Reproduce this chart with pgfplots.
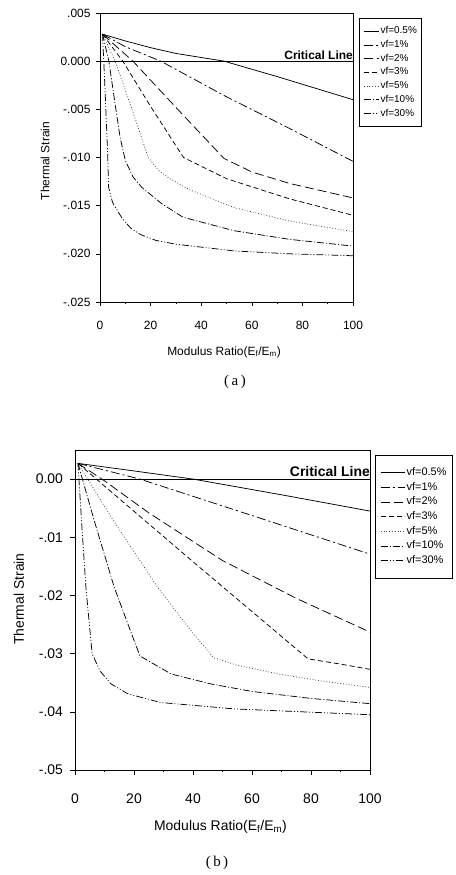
\documentclass[border=0pt]{standalone}
\usepackage{fontspec}
\setmainfont{Liberation Sans}
\newfontfamily\capfont{Liberation Serif}
\usepackage{pgfplots}
\pgfplotsset{compat=1.18}
\pgfplotsset{
 s05/.style={black, line width=0.75pt, solid},
 s1/.style={black, line width=0.75pt, dash pattern=on 9bp off 3bp on 2bp off 3bp},
 s2/.style={black, line width=0.75pt, dash pattern=on 9bp off 4bp},
 s3/.style={black, line width=0.75pt, dash pattern=on 5bp off 3bp},
 s5/.style={black!75, line width=0.75pt, dash pattern=on 0.8bp off 2bp},
 s10/.style={black, line width=0.75pt, dash pattern=on 7bp off 2bp on 1bp off 2bp},
 s30/.style={black, line width=0.75pt, dash pattern=on 7bp off 2bp on 1bp off 2bp on 1bp off 2bp},
 common/.style={
  scale only axis, anchor=south west,
  xmin=0, xmax=100,
  xtick={0,20,40,60,80,100}, xticklabels={0,20,40,60,80,100},
  minor xtick={10,30,50,70,90},
  tick pos=left, tick align=outside,
  major tick length=4bp, minor tick length=2bp,
  scaled y ticks=false, scaled x ticks=false,
  axis line style={line width=0.75pt},
  every tick/.style={black, line width=0.6pt},
  legend cell align=left,
 },
}
\begin{document}
\begin{tikzpicture}[x=1bp,y=1bp]
\useasboundingbox (0,0) rectangle (456,875);
\fill[white] (0,0) rectangle (456,875);

% ---------------- panel (a)
\begin{axis}[common,
 at={(100bp,573bp)}, width=253bp, height=289bp,
 ymin=-0.025, ymax=0.005,
 ytick={-0.025,-0.020,-0.015,-0.010,-0.005,0,0.005},
 yticklabels={-.025,-.020,-.015,-.010,-.005,0.000,.005},
 ticklabel style={font=\fontsize{12}{12}\selectfont},
 xticklabel style={yshift=-12bp},
 yticklabel style={xshift=-2bp},
 legend style={at={(1,1)}, anchor=north west, xshift=6bp, yshift=-5bp,
   draw=black, line width=0.7pt, fill=white, inner xsep=4bp, inner ysep=8bp,
   row sep=3.7bp, column sep=1bp, font=\fontsize{10}{10}\selectfont,
   nodes={inner sep=0.5bp, text height=7bp, text depth=2bp}},
 legend image code/.code={\draw[#1] (0bp,0bp) -- (15bp,0bp);},
]
\addplot[s05] coordinates {(1,0.0028) (10,0.0021) (20,0.0014) (30,0.0008) (49,0.0) (70,-0.0016) (100,-0.0040)};
\addlegendentry{vf=0.5\%}
\addplot[s1] coordinates {(1,0.0028) (10,0.0015) (24,0.0) (50,-0.0037) (75,-0.0070) (100,-0.0104)};
\addlegendentry{vf=1\%}
\addplot[s2] coordinates {(1,0.0028) (13,0.0) (30,-0.0048) (49,-0.0101) (60,-0.0115) (75,-0.0127) (100,-0.0142)};
\addlegendentry{vf=2\%}
\addplot[s3] coordinates {(1,0.0028) (9,0.0) (20,-0.0047) (33,-0.0100) (50,-0.0122) (75,-0.0143) (100,-0.0160)};
\addlegendentry{vf=3\%}
\addplot[s5] coordinates {(1,0.0028) (6,0.0) (12,-0.0045) (16.5,-0.0080) (19,-0.0100) (23,-0.0113) (27,-0.0121) (35,-0.0133) (53,-0.0152) (75,-0.0166) (100,-0.0177)};
\addlegendentry{vf=5\%}
\addplot[s10] coordinates {(1,0.0028) (3.5,0.0) (6,-0.0045) (8,-0.0080) (10,-0.0103) (13,-0.0120) (16.5,-0.0131) (24.4,-0.0148) (32.8,-0.0162) (53,-0.0176) (75,-0.0185) (100,-0.0192)};
\addlegendentry{vf=10\%}
\addplot[s30] coordinates {(1,0.0028) (2,-0.0030) (3,-0.0095) (3.4,-0.0131) (5,-0.0147) (8.7,-0.0163) (12,-0.0173) (16,-0.0180) (22,-0.0186) (30,-0.0190) (53,-0.0197) (75,-0.0200) (100,-0.0202)};
\addlegendentry{vf=30\%}
\addplot[black, line width=0.6pt, forget plot] coordinates {(0,0) (100,0)};
\node[anchor=south east, inner sep=0pt, font=\bfseries\fontsize{12}{12}\selectfont] at (axis cs:100,0.00017) {Critical Line};
\end{axis}

\node[rotate=90, font=\fontsize{12}{12}\selectfont] at (45,714) {Thermal Strain};
\node[font=\fontsize{12}{12}\selectfont] at (224,523) {Modulus Ratio(E\textsubscript{f}/E\textsubscript{m})};
\node[font=\capfont\fontsize{15}{15}\selectfont] at (235,493) {(\,a\,)};

% ---------------- panel (b)
\begin{axis}[common,
 at={(75bp,105bp)}, width=295bp, height=320bp,
 ymin=-0.05, ymax=0.005,
 ytick={-0.05,-0.04,-0.03,-0.02,-0.01,0},
 yticklabels={-.05,-.04,-.03,-.02,-.01,0.00},
 major tick length=5bp, minor tick length=2.5bp,
 ticklabel style={font=\fontsize{14}{14}\selectfont},
 xticklabel style={yshift=-15bp},
 yticklabel style={xshift=-3.5bp},
 legend style={at={(1,1)}, anchor=north west, xshift=5bp, yshift=-5bp,
   draw=black, line width=0.7pt, fill=white, inner xsep=5bp, inner ysep=11.5bp,
   row sep=3.2bp, column sep=1bp, font=\fontsize{11}{11}\selectfont,
   nodes={inner sep=0.5bp, text height=8bp, text depth=2.5bp}},
 legend image code/.code={\draw[#1] (0bp,0bp) -- (24bp,0bp);},
]
\addplot[s05] coordinates {(1,0.0027) (20,0.0014) (40,0.0) (70,-0.0027) (100,-0.0055)};
\addlegendentry{vf=0.5\%}
\addplot[s1] coordinates {(1,0.0027) (22,0.0) (56,-0.0056) (100,-0.0129)};
\addlegendentry{vf=1\%}
\addplot[s2] coordinates {(1,0.0027) (10,-0.0003) (25,-0.0058) (50,-0.0140) (75,-0.0205) (100,-0.0263)};
\addlegendentry{vf=2\%}
\addplot[s3] coordinates {(1,0.0027) (40,-0.0142) (79,-0.0309) (90,-0.0318) (100,-0.0327)};
\addlegendentry{vf=3\%}
\addplot[s5] coordinates {(1,0.0027) (13,-0.0071) (28,-0.0186) (40,-0.0265) (47,-0.0307) (55,-0.0320) (70,-0.0336) (85,-0.0348) (100,-0.0358)};
\addlegendentry{vf=5\%}
\addplot[s10] coordinates {(1,0.0027) (6.5,-0.0071) (13.3,-0.0186) (18,-0.0250) (22,-0.0304) (32.6,-0.0335) (46,-0.0352) (60,-0.0365) (80,-0.0377) (100,-0.0386)};
\addlegendentry{vf=10\%}
\addplot[s30] coordinates {(1,0.0027) (2.2,-0.0071) (3.7,-0.0186) (5.8,-0.0300) (8.5,-0.0330) (12.2,-0.0352) (17.9,-0.0369) (29,-0.0384) (54,-0.0395) (100,-0.0405)};
\addlegendentry{vf=30\%}
\addplot[black, line width=0.6pt, forget plot] coordinates {(0,0) (100,0)};
\node[anchor=south east, inner sep=0pt, font=\bfseries\fontsize{14}{14}\selectfont] at (axis cs:100,0.00035) {Critical Line};
\end{axis}

\node[rotate=90, font=\fontsize{14}{14}\selectfont] at (19,276) {Thermal Strain};
\node[font=\fontsize{14}{14}\selectfont] at (220.5,48) {Modulus Ratio(E\textsubscript{f}/E\textsubscript{m})};
\node[font=\capfont\fontsize{15}{15}\selectfont] at (217,12) {(\,b\,)};
\end{tikzpicture}
\end{document}
